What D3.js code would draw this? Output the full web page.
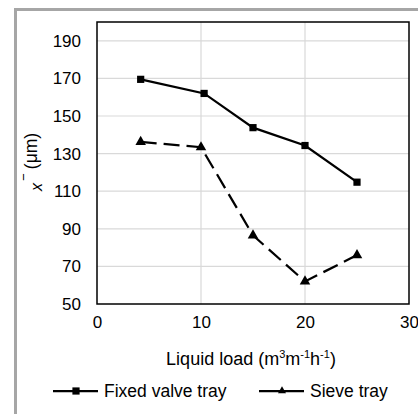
<!DOCTYPE html>
<html>
<head>
<meta charset="utf-8">
<script src="https://cdn.jsdelivr.net/npm/d3@7"></script>
<style>
  body { margin: 0; background: #fff; }
  svg { display: block; font-family: "Liberation Sans", Arial, sans-serif; }
</style>
</head>
<body>
<div id="chart"></div>
<script>
// data
const loads = [4.2, 10.3, 15, 20, 25];
const fixedValve = [169.5, 162, 143.8, 134.3, 114.8];
const sieveLoads = [4.2, 10, 15, 20, 25];
const sieveTray = [136.2, 133.4, 86.5, 62, 76];
const yTicks = [50, 70, 90, 110, 130, 150, 170, 190];
const xTicks = [0, 10, 20, 30];

const width = 418, height = 414;
const margin = { top: 22, right: 9, bottom: 110, left: 97 };
const font = "'Liberation Sans', Arial, sans-serif";

const svg = d3.select("#chart").append("svg")
  .attr("width", width)
  .attr("height", height);

// outer gray frame (runs off the right and bottom edges)
svg.append("rect")
  .attr("x", 15.5).attr("y", 9.5)
  .attr("width", 500).attr("height", 500)
  .attr("fill", "none")
  .attr("stroke", "#a6a6a6")
  .attr("stroke-width", 3);

const x = d3.scaleLinear().domain([0, 30]).range([margin.left, width - margin.right]);
const y = d3.scaleLinear().domain([50, 200]).range([height - margin.bottom, margin.top]);

// gridlines
svg.append("g")
  .selectAll("line.h")
  .data(yTicks.slice(1))
  .join("line")
  .attr("x1", x(0)).attr("x2", x(30))
  .attr("y1", d => y(d)).attr("y2", d => y(d))
  .attr("stroke", "#d9d9d9").attr("stroke-width", 1.2);

svg.append("g")
  .selectAll("line.v")
  .data(xTicks.slice(1, -1))
  .join("line")
  .attr("x1", d => x(d)).attr("x2", d => x(d))
  .attr("y1", y(50)).attr("y2", y(200))
  .attr("stroke", "#d9d9d9").attr("stroke-width", 1.2);

// plot border
svg.append("rect")
  .attr("x", x(0)).attr("y", y(200))
  .attr("width", x(30) - x(0)).attr("height", y(50) - y(200))
  .attr("fill", "none")
  .attr("stroke", "#000")
  .attr("stroke-width", 1.5);

// axes (labels only)
const yAxis = svg.append("g")
  .attr("transform", `translate(${x(0)},0)`)
  .call(d3.axisLeft(y).tickValues(yTicks).tickSize(0).tickPadding(16));
yAxis.select(".domain").remove();
yAxis.attr("font-family", font).attr("font-size", 17);
yAxis.selectAll("text").attr("fill", "#000");

const xAxis = svg.append("g")
  .attr("transform", `translate(0,${y(50)})`)
  .call(d3.axisBottom(x).tickValues(xTicks).tickSize(0).tickPadding(12));
xAxis.select(".domain").remove();
xAxis.attr("font-family", font).attr("font-size", 17);
xAxis.selectAll("text").attr("fill", "#000");

// series
const line = d3.line().x(d => x(d[0])).y(d => y(d[1]));
const fixedPts = loads.map((l, i) => [l, fixedValve[i]]);
const sievePts = sieveLoads.map((l, i) => [l, sieveTray[i]]);

svg.append("path")
  .datum(fixedPts)
  .attr("d", line)
  .attr("fill", "none")
  .attr("stroke", "#000")
  .attr("stroke-width", 2.25);

svg.append("path")
  .datum(sievePts)
  .attr("d", line)
  .attr("fill", "none")
  .attr("stroke", "#000")
  .attr("stroke-width", 2.25)
  .attr("stroke-dasharray", "16,7");

const square = d3.symbol().type(d3.symbolSquare).size(52);
const triangle = d3.symbol().type(d3.symbolTriangle).size(48);

svg.append("g").selectAll("path")
  .data(fixedPts)
  .join("path")
  .attr("d", square)
  .attr("transform", d => `translate(${x(d[0])},${y(d[1])})`)
  .attr("fill", "#000");

svg.append("g").selectAll("path")
  .data(sievePts)
  .join("path")
  .attr("d", triangle)
  .attr("transform", d => `translate(${x(d[0])},${y(d[1])})`)
  .attr("fill", "#000");

// x axis title
const xTitle = svg.append("text")
  .attr("x", 251).attr("y", 365)
  .attr("text-anchor", "middle")
  .attr("font-size", 18);
xTitle.append("tspan").text("Liquid load (m");
xTitle.append("tspan").attr("font-size", 11).attr("dy", -7).text("3");
xTitle.append("tspan").attr("dy", 7).text("m");
xTitle.append("tspan").attr("font-size", 11).attr("dy", -7).text("-1");
xTitle.append("tspan").attr("dy", 7).text("h");
xTitle.append("tspan").attr("font-size", 11).attr("dy", -7).text("-1");
xTitle.append("tspan").attr("dy", 7).text(")");

// y axis title: x-bar (μm)
const yTitle = svg.append("g").attr("transform", "translate(37,151) rotate(-90)");
yTitle.append("text")
  .attr("text-anchor", "middle")
  .attr("font-size", 17.5)
  .text("(μm)");
yTitle.append("text")
  .attr("x", -36).attr("y", 5)
  .attr("font-size", 16)
  .attr("font-style", "italic")
  .attr("text-anchor", "middle")
  .text("x");
yTitle.append("text")
  .attr("x", -26).attr("y", -1)
  .attr("font-size", 16)
  .attr("text-anchor", "middle")
  .text("\u203E");

// legend
const legend = [
  { name: "Fixed valve tray", sym: square, x0: 53 },
  { name: "Sieve tray", sym: d3.symbol().type(d3.symbolTriangle).size(28), x0: 259 }
];
const lg = svg.append("g").selectAll("g")
  .data(legend)
  .join("g")
  .attr("transform", d => `translate(${d.x0},391)`);
lg.append("line")
  .attr("x1", 0).attr("x2", 45)
  .attr("stroke", "#000").attr("stroke-width", 2.25);
lg.append("path")
  .attr("d", d => d.sym())
  .attr("transform", "translate(23,0)")
  .attr("fill", "#000");
lg.append("text")
  .attr("x", 51).attr("y", 6)
  .attr("font-size", 17.5)
  .text(d => d.name);
</script>
</body>
</html>
